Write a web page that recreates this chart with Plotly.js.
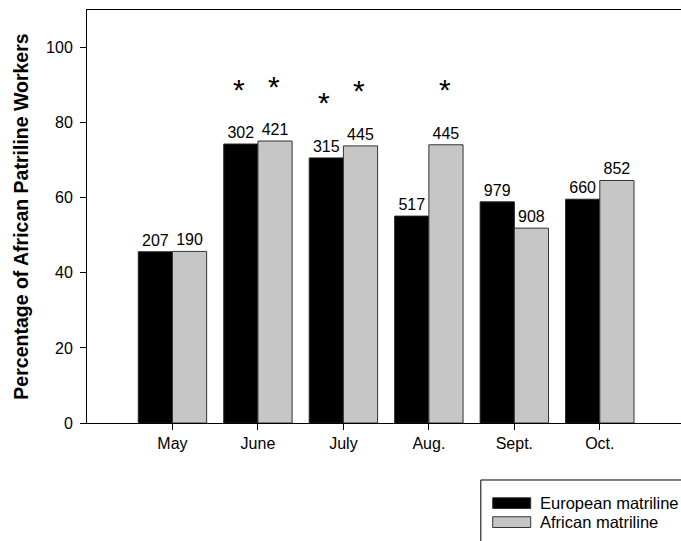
<!DOCTYPE html>
<html>
<head>
<meta charset="utf-8">
<script src="https://cdn.plot.ly/plotly-3.0.1.min.js"></script>
<style>html,body{margin:0;padding:0;background:#fff;}#chart{width:681px;height:541px;}</style>
</head>
<body>
<div id="chart"></div>
<script>
var months = ["May", "June", "July", "Aug.", "Sept.", "Oct."];
var seriesNames = ["European matriline", "African matriline"];
var europeanPct = [45.6, 74.3, 70.6, 55.1, 58.9, 59.6];
var africanPct = [45.7, 75.1, 73.8, 74.1, 51.9, 64.6];
var europeanN = ["207", "302", "315", "517", "979", "660"];
var africanN = ["190", "421", "445", "445", "908", "852"];
var europeanSig = [false, true, true, false, false, false];
var africanSig = [false, true, true, true, false, false];
var yTicks = [0, 20, 40, 60, 80, 100];

var FONT = "Liberation Sans, Arial, sans-serif";
var colors = ["#000000", "#c6c6c6"];

var traces = [
  {type: "bar", name: seriesNames[0], x: months, y: europeanPct, text: europeanN,
   textposition: "outside", cliponaxis: false, textfont: {family: FONT, size: 16, color: "#000"},
   marker: {color: colors[0], line: {color: "#222", width: 1}}, hoverinfo: "x+y"},
  {type: "bar", name: seriesNames[1], x: months, y: africanPct, text: africanN,
   textposition: "outside", cliponaxis: false, textfont: {family: FONT, size: 16, color: "#000"},
   marker: {color: colors[1], line: {color: "#333", width: 1}}, hoverinfo: "x+y"}
];

var annotations = [];
function addStars(vals, sig, shift) {
  for (var i = 0; i < months.length; i++) {
    if (sig[i]) {
      annotations.push({x: months[i], y: vals[i], xref: "x", yref: "y", text: "*",
        showarrow: false, xshift: shift, yshift: 55, yanchor: "middle",
        font: {family: FONT, size: 30, color: "#000"}});
    }
  }
}
addStars(europeanPct, europeanSig, -19);
addStars(africanPct, africanSig, 16);

// legend box drawn as shapes + text
var shapes = [
  {type: "rect", xref: "paper", yref: "paper", x0: 0.663, x1: 1.05, y0: -0.138, y1: -0.32,
   line: {color: "#000", width: 1}, fillcolor: "rgba(0,0,0,0)"}
];
var legY = [-0.194, -0.240];
for (var k = 0; k < seriesNames.length; k++) {
  shapes.push({type: "rect", xref: "paper", yref: "paper", x0: 0.683, x1: 0.747,
    y0: legY[k] - 0.013, y1: legY[k] + 0.013, fillcolor: colors[k],
    line: {color: "#333", width: 1}});
  annotations.push({xref: "paper", yref: "paper", x: 0.760, y: legY[k], xanchor: "left",
    yanchor: "middle", text: seriesNames[k], showarrow: false,
    font: {family: FONT, size: 16.5, color: "#000"}});
}

var layout = {
  width: 681, height: 541,
  margin: {l: 87, r: 0, t: 10, b: 118},
  paper_bgcolor: "#fff", plot_bgcolor: "#fff",
  showlegend: false,
  barmode: "group", bargap: 0.2, bargroupgap: 0,
  font: {family: FONT, color: "#000"},
  xaxis: {type: "category", range: [-1, 5.95], showline: true, mirror: true, linecolor: "#000",
    linewidth: 1, ticks: "outside", ticklen: 6, tickcolor: "#000", showgrid: false,
    tickfont: {family: FONT, size: 16}, fixedrange: true},
  yaxis: {range: [0, 110], tickvals: yTicks, showline: true, linecolor: "#000", linewidth: 1,
    ticks: "outside", ticklen: 6, tickcolor: "#000", showgrid: false, zeroline: false,
    tickfont: {family: FONT, size: 16}, ticklabelstandoff: 4,
    title: {text: "<b>Percentage of African Patriline Workers</b>", font: {family: FONT, size: 19.5}, standoff: 12},
    fixedrange: true},
  annotations: annotations,
  shapes: shapes
};

Plotly.newPlot("chart", traces, layout, {displayModeBar: false, staticPlot: true});
</script>
</body>
</html>
